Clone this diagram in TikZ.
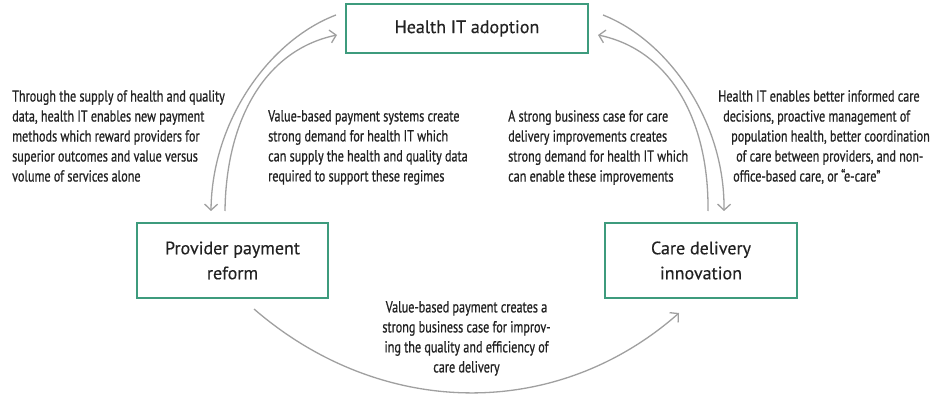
\documentclass[tikz,border=0pt]{standalone}
\usepackage{fontspec}
\usetikzlibrary{arrows.meta,calc}
\newfontfamily\smallf[FakeStretch=0.76,FakeBold=0.7]{PT Sans}
\newfontfamily\boxf[FakeBold=0.3]{PT Sans}
\definecolor{boxgreen}{HTML}{3E9B7D}
\definecolor{arrgray}{HTML}{A0A0A0}
\definecolor{txt}{HTML}{222222}
\tikzset{
  box/.style={draw=boxgreen, line width=2pt, fill=white, align=center, text=txt,
    font=\boxf\fontsize{18}{25}\selectfont, inner sep=0pt},
  arr/.style={draw=arrgray, line width=1.3pt, -{Straight Barb[length=6pt,width=13pt,line width=1.3pt]}},
  note/.style={inner sep=0pt, text=txt, font=\smallf\fontsize{16}{20}\selectfont}
}
\begin{document}
\begin{tikzpicture}[x=1pt,y=-1pt]
\useasboundingbox (0,0) rectangle (936,395);
\fill[white] (0,0) rectangle (936,395);

\node[box, minimum width=242pt, minimum height=49pt] (hit) at (467,28.5) {Health IT adoption};
\node[box, minimum width=191pt, minimum height=75pt] (ppr) at (232.5,260.5) {Provider payment\\reform};
\node[box, minimum width=192pt, minimum height=75pt] (cdi) at (701,260.5) {Care delivery\\innovation};

% left pair
\draw[arr] ($(hit.west)+(-9,-13.5)$) .. controls (270,40) and (212,120) .. ($(ppr.north west)+(75,-11)$);
\draw[arr] ($(ppr.north west)+(89,-11)$) .. controls (226,120) and (265,50) .. ($(hit.west)+(-8,6.5)$);
% right pair
\draw[arr] ($(hit.east)+(14,-13.5)$) .. controls (667,40) and (725,120) .. ($(cdi.north west)+(120,-11)$);
\draw[arr] ($(cdi.north west)+(104,-11)$) .. controls (709,120) and (670,50) .. ($(hit.east)+(9,6.5)$);
% bottom
\draw[arr] ($(ppr.south east)+(-75,10)$) .. controls (380,418) and (555,422) .. ($(cdi.south west)+(75,14)$);

\node[note, anchor=north west, align=left] (t1) at (12,90) {Through the supply of health and quality\\data, health IT enables new payment\\methods which reward providers for\\superior outcomes and value versus\\volume of services alone};
\node[note, anchor=north west, align=left] (t2) at (268,110) {Value-based payment systems create\\strong demand for health IT which\\can supply the health and quality data\\required to support these regimes};
\node[note, anchor=north west, align=left] (t3) at (508,110) {A strong business case for care\\delivery improvements creates\\strong demand for health IT which\\can enable these improvements};
\node[note, anchor=north west, align=left] (t4) at (718,90) {Health IT enables better informed care\\\hspace*{5pt}decisions, proactive management of\\\hspace*{13pt}population health, better coordination\\\hspace*{18pt}of care between providers, and non-\\\hspace*{15pt}office-based care, or “e-care”};
\node[note, anchor=north, align=center] (t5) at (466.5,301) {Value-based payment creates a\\strong business case for improv-\\ing the quality and efficiency of\\care delivery};
\end{tikzpicture}
\end{document}
